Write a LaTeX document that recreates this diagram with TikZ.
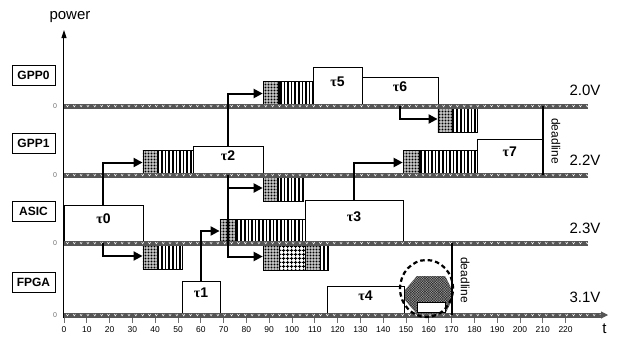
\documentclass[tikz,border=0pt]{standalone}
\usepackage{fontspec}
\setmainfont{Liberation Sans}
\newfontfamily\taufont{Liberation Serif}
\usepackage{xcolor}
\definecolor{bandGray}{HTML}{555555}
\definecolor{axGray}{HTML}{6E6E6E}
\usetikzlibrary{arrows.meta, fit, patterns.meta, shapes.geometric}

% hatched time line of one processor: y, length
\newcommand{\timeband}[2]{%
  \fill[bandGray] (0,#1-2.5) rectangle (#2,#1+2.5);
  \foreach \v in {1.5,4.5,...,#2}
    \draw[white, line width=0.45pt] (\v-0.5,#1+1) -- (\v,#1-0.9) -- (\v+0.5,#1+1);
}
% communication block: name, x start, end of dots, x end, y bottom, y top
\newcommand{\commblock}[6]{%
  \fill[pattern={Dots[distance=1.5pt, radius=0.6pt]}] (#2,#5) rectangle (#3,#6);
  \fill[pattern={Lines[angle=90, distance=3.6pt, line width=1.5pt]}] (#3,#5) rectangle (#4,#6);
  \draw[line width=1.2pt] (#3,#5) -- (#3,#6);
  \node[comm, fit={(#2,#5) (#4,#6)}] (#1) {};
}
\newcommand{\tl}[1]{{\taufont τ}#1}

\begin{document}
\begin{tikzpicture}[
  x=2.28pt, y=1pt,
  every node/.style={font=\fontsize{12}{14}\selectfont},
  task/.style={draw, line width=0.6pt, fill=white, inner sep=0pt,
               font=\fontsize{14}{16}\selectfont\bfseries},
  comm/.style={draw, line width=0.7pt, inner sep=0pt},
  proc/.style={draw, line width=0.8pt, minimum width=43pt, minimum height=20pt,
               inner sep=0pt, font=\fontsize{12}{14}\selectfont\bfseries},
  volt/.style={font=\fontsize{15}{17}\selectfont},
  zero/.style={font=\fontsize{7}{8}\selectfont, text=axGray},
  flow/.style={-{Triangle[length=9pt, width=9pt]}, line width=2pt},
  deadline/.style={line width=2pt},
  dlabel/.style={rotate=-90, font=\fontsize{12}{14}\selectfont}
]
\useasboundingbox (-28.07,-26) rectangle (242.54,315);

% axes
\draw[axGray, line width=1pt, -{Triangle[length=8pt, width=5pt]}, black] (0,-3) -- (0,285);
\node[volt] (power) at (2.6,298) {power};
\foreach \t in {0,10,...,220} {
  \draw[axGray, line width=0.8pt] (\t,-2.5) -- (\t,-8);
  \node[font=\fontsize{8.5}{9}\selectfont] (tick\t) at (\t,-15) {\t};
}
\node[volt] (tlab) at (237,-14) {t};

% processors
\node[proc] (gpp0) at (-13.4,239.5) {GPP0};
\node[proc] (gpp1) at (-13.4,171.5) {GPP1};
\node[proc] (asic) at (-13.4,103.5) {ASIC};
\node[proc] (fpga) at (-13.4,32.5) {FPGA};

% tasks
\node[task, fit={(0,72) (34.6,110)}]       (t0) {\tl{0}};
\node[task, fit={(51.8,0) (68.4,34)}]      (t1) {\tl{1}};
\node[task, fit={(56.6,140) (87.3,169)}]   (t2) {\tl{2}};
\node[task, fit={(105.7,72) (148.7,115)}]  (t3) {\tl{3}};
\node[task, fit={(115.3,0) (149.1,29)}]    (t4) {\tl{4}};
\node[task, fit={(109.2,209) (130.7,248)}] (t5) {\tl{5}};
\node[task, fit={(130.7,209) (164,238)}]   (t6) {\tl{6}};
\node[task, fit={(181.1,140) (210,176)}]   (t7) {\tl{7}};

% communications
\commblock{c1}{87.3}{94.3}{109.2}{209}{234}
\commblock{c2}{164}{170.6}{181.1}{183}{209}
\commblock{c3}{34.6}{41.2}{56.6}{140}{165}
\commblock{c4}{87.3}{93.9}{104.8}{114}{140}
\commblock{c5}{148.7}{156.1}{181.1}{140}{165}
\commblock{c6}{34.6}{41.2}{51.8}{46}{72}
\commblock{c7}{68.4}{75.4}{105.7}{72}{96}
% ASIC -> FPGA, with the grid part
\fill[pattern={Dots[distance=1.5pt, radius=0.6pt]}] (87.3,45) rectangle (94.3,72);
\fill[pattern={Hatch[angle=0, distance=4pt, line width=1pt]}] (94.3,45) rectangle (105.7,72);
\fill[pattern={Dots[distance=1.5pt, radius=0.6pt]}] (105.7,45) rectangle (112.3,72);
\fill[pattern={Lines[angle=90, distance=3.6pt, line width=1.5pt]}] (112.3,45) rectangle (115.8,72);
\draw[line width=1pt] (94.3,45) -- (94.3,72) (105.7,45) -- (105.7,72) (112.3,45) -- (112.3,72);
\node[comm, fit={(87.3,45) (115.8,72)}] (c8) {};

% time lines
\timeband{209}{230}
\timeband{140}{230}
\timeband{72}{230}
\timeband{0}{236}
\draw[-{Triangle[length=7pt, width=7pt]}, bandGray, line width=1pt] (235,0) -- (238.6,0);
\foreach \y/\n in {209/z0,140/z1,72/z2,0/z3}
  \node[zero] (\n) at (-3.9,\y) {0};

% dependencies
\foreach \a/\b/\d in {t0/c3/north, t0/c6/south, t1/c7/north, t2/c1/north,
                      t2/c4/south, t2/c8/south, t3/c5/north, t6/c2/south}
  \draw[flow] (\a.\d) |- (\b.west);

% slack on the FPGA
\fill[black!85] (154.8,39) -- (167.1,39) -- (170.2,25) -- (170.2,15) -- (167.1,1)
  -- (154.8,1) -- (149.6,15) -- (149.6,25) -- cycle;
\fill[pattern={Hatch[angle=45, distance=1.8pt, line width=0.35pt]}, pattern color=gray!80]
  (154.8,39) -- (167.1,39) -- (170.2,25) -- (170.2,15) -- (167.1,1)
  -- (154.8,1) -- (149.6,15) -- (149.6,25) -- cycle;
\draw[fill=white, line width=0.6pt] (154.8,3) rectangle (167.1,13);
\node[draw, ellipse, dash pattern=on 4.5pt off 3pt, line width=2.2pt,
      minimum width=53pt, minimum height=57pt, inner sep=0pt] (slack) at (159,26.5) {};

% deadlines
\draw[deadline] (210,140) -- (210,209);
\node[dlabel] (dl1) at (215.8,174) {deadline};
\draw[deadline] (170,0) -- (170,72);
\node[dlabel] (dl2) at (175.9,35) {deadline};

% voltages
\node[volt] (v0) at (228.5,225) {2.0V};
\node[volt] (v1) at (228.5,155) {2.2V};
\node[volt] (v2) at (228.5,87) {2.3V};
\node[volt] (v3) at (228.5,18) {3.1V};
\end{tikzpicture}
\end{document}
